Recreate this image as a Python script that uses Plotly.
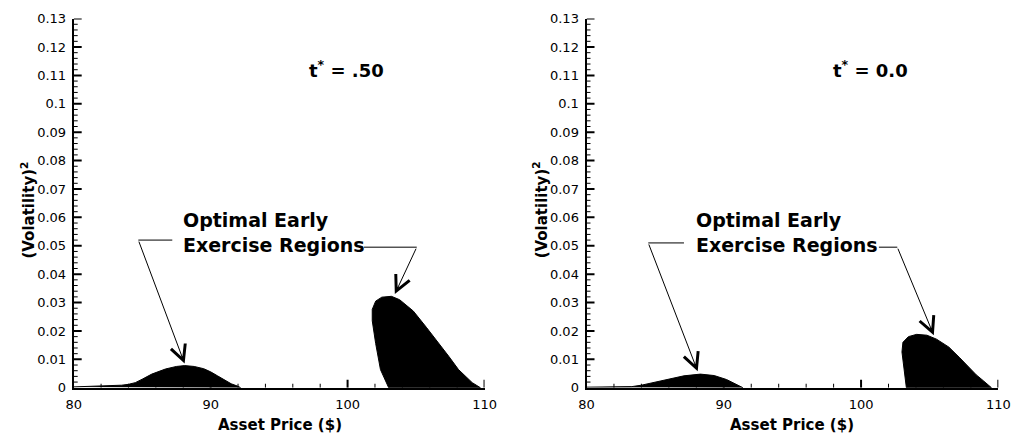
import plotly.graph_objects as go

W, H = 1027, 446

# ---------------- data ----------------
# Panel t* = .50
left_bump_x = [80, 81, 82, 83, 83.5, 84, 84.5, 85, 85.7, 86.7, 87.5, 88.1, 88.8, 89.5, 90, 90.5, 91, 91.5, 92, 92.2]
left_bump_y = [0.0003, 0.0004, 0.0005, 0.0007, 0.0009, 0.0012, 0.0018, 0.0030, 0.0048, 0.0066, 0.0075, 0.0078,
               0.0075, 0.0067, 0.0056, 0.0042, 0.0027, 0.0014, 0.0005, 0.0]
left_region_x = [103.0, 102.4, 102.05, 101.8, 101.8, 102.05, 102.5, 103.2, 103.8, 104.8, 105.75, 106.7,
                 107.4, 108.1, 109.1, 109.7, 103.0]
left_region_y = [0.0, 0.0064, 0.0156, 0.0236, 0.0276, 0.0305, 0.0319, 0.0322, 0.0310, 0.0270, 0.0213, 0.0156,
                 0.0110, 0.0064, 0.0018, 0.0, 0.0]

# Panel t* = 0.0
right_bump_x = [80, 81, 82, 83, 83.3, 84, 84.8, 86.0, 87.1, 88.3, 89.3, 90.2, 91.0, 91.4]
right_bump_y = [0.0002, 0.0002, 0.0003, 0.0003, 0.0004, 0.0009, 0.0017, 0.0030, 0.0042, 0.0048, 0.0043,
                0.0029, 0.0011, 0.0]
right_region_x = [103.3, 103.1, 102.98, 103.05, 103.45, 104.05, 104.8, 105.5, 106.4, 107.2, 107.8, 108.4,
                  108.9, 109.3, 109.5, 103.3]
right_region_y = [0.0, 0.0068, 0.0126, 0.0160, 0.0180, 0.0188, 0.0185, 0.0171, 0.0143, 0.0105, 0.0075,
                  0.0045, 0.0025, 0.0010, 0.0, 0.0]

x_ticks = [80, 90, 100, 110]
x_minor_ticks = [82, 84, 86, 88, 92, 94, 96, 98, 102, 104, 106, 108]
y_ticks = [round(0.01 * i, 2) for i in range(14)]
y_ticklabels = ["0", "0.01", "0.02", "0.03", "0.04", "0.05", "0.06", "0.07", "0.08", "0.09", "0.1",
                "0.11", "0.12", "0.13"]
y_minor_ticks = [round(0.002 * i, 3) for i in range(66) if i % 5 != 0]
panel_titles = ["t<sup>*</sup> = .50", "t<sup>*</sup> = 0.0"]
region_label = "<b>Optimal Early<br>Exercise Regions</b>"
x_title = "Asset Price ($)"
y_title = "(Volatility)<sup>2</sup>"

FONT = "DejaVu Sans"

def px(x):
    return x / W

def py(y):
    return 1 - y / H

fig = go.Figure()

def fill_trace(xs, ys, xa, ya):
    fig.add_trace(go.Scatter(x=xs, y=ys, xaxis=xa, yaxis=ya, mode="lines", fill="toself",
                             fillcolor="black", line=dict(color="black", width=1),
                             hoverinfo="skip", showlegend=False))

fill_trace(left_bump_x, left_bump_y, "x", "y")
fill_trace(left_region_x, left_region_y, "x", "y")
fill_trace(right_bump_x, right_bump_y, "x2", "y2")
fill_trace(right_region_x, right_region_y, "x2", "y2")

ydom = [py(394), py(12)]

xcommon = dict(range=[x_ticks[0], x_ticks[-1]], tickmode="array", tickvals=x_ticks,
               ticktext=[str(v) for v in x_ticks], showline=True, linecolor="black", linewidth=2,
               ticks="", showgrid=False, zeroline=False, ticklabelstandoff=4,
               tickfont=dict(family=FONT, size=13, color="black"))
ycommon = dict(range=[y_ticks[0], y_ticks[-1]], tickmode="array", tickvals=y_ticks, ticktext=y_ticklabels,
               showline=True, linecolor="black", linewidth=2, ticks="", showgrid=False, zeroline=False,
               ticklabelstandoff=3, tickfont=dict(family=FONT, size=13, color="black"))

fig.update_layout(
    width=W, height=H, margin=dict(l=0, r=0, t=0, b=0),
    paper_bgcolor="white", plot_bgcolor="white", showlegend=False,
    xaxis=dict(domain=[px(67), px(486)], anchor="y", **xcommon),
    yaxis=dict(domain=ydom, anchor="x", **ycommon),
    xaxis2=dict(domain=[px(590), px(1010)], anchor="y2", **xcommon),
    yaxis2=dict(domain=ydom, anchor="x2", **ycommon),
)

annotations = []
shapes = []

# inside tick marks, placed by the axes (pixel-length shapes anchored at the axis lines)
for xa, ya in (("x", "y"), ("x2", "y2")):
    for v in x_ticks[1:]:
        shapes.append(dict(type="line", xref=xa, yref=ya, ysizemode="pixel", yanchor=y_ticks[0],
                           x0=v, x1=v, y0=0, y1=8, line=dict(color="black", width=2)))
    for v in x_minor_ticks:
        shapes.append(dict(type="line", xref=xa, yref=ya, ysizemode="pixel", yanchor=y_ticks[0],
                           x0=v, x1=v, y0=0, y1=4, line=dict(color="black", width=1)))
    for v in y_ticks[1:]:
        shapes.append(dict(type="line", xref=xa, yref=ya, xsizemode="pixel", xanchor=x_ticks[0],
                           x0=0, x1=8, y0=v, y1=v, line=dict(color="black", width=2)))
    for v in y_minor_ticks:
        shapes.append(dict(type="line", xref=xa, yref=ya, xsizemode="pixel", xanchor=x_ticks[0],
                           x0=0, x1=4, y0=v, y1=v, line=dict(color="black", width=1)))

# axis titles
for cx in (277, 800):
    annotations.append(dict(x=px(cx), y=py(433), xref="paper", yref="paper", showarrow=False,
                            xanchor="center", yanchor="middle",
                            text="<b>" + x_title + "</b>", font=dict(family=FONT, size=15, color="black")))
for cx in (20, 543):
    annotations.append(dict(x=px(cx), y=py(210), xref="paper", yref="paper", showarrow=False,
                            xanchor="center", yanchor="middle",
                            textangle=-90, text="<b>" + y_title + "</b>",
                            font=dict(family=FONT, size=15, color="black")))

# panel titles
for cx, t in zip((345, 880), panel_titles):
    annotations.append(dict(x=px(cx), y=py(64), xref="paper", yref="paper", showarrow=False,
                            xanchor="center", yanchor="middle",
                            text="<b>" + t + "</b>", font=dict(family=FONT, size=18, color="black")))

# region labels
for lx in (176, 700):
    annotations.append(dict(x=px(lx), y=py(233), xref="paper", yref="paper", showarrow=False,
                            xanchor="left", yanchor="middle", align="left", text=region_label,
                            font=dict(family=FONT, size=19, color="black")))

# leader lines and arrows (data coordinates)
leaders = [
    # xaxis, yaxis, horiz x0, horiz x1, horiz y, tip x, tip y, tail x
    ("x", "y", 84.72, 87.2, 0.0520, 88.1, 0.0085, 84.72),
    ("x", "y", 101.2, 105.05, 0.0495, 103.45, 0.0330, 105.05),
    ("x2", "y2", 84.5, 87.1, 0.0510, 88.1, 0.0058, 84.5),
    ("x2", "y2", 101.3, 102.64, 0.0495, 105.3, 0.0185, 102.64),
]
for xa, ya, hx0, hx1, hy, tx, ty, tailx in leaders:
    shapes.append(dict(type="line", xref=xa, yref=ya, x0=hx0, x1=hx1, y0=hy, y1=hy,
                       line=dict(color="black", width=1)))
    annotations.append(dict(x=tx, y=ty, xref=xa, yref=ya, ax=tailx, ay=hy, axref=xa, ayref=ya,
                            text="", showarrow=True, arrowhead=5, arrowsize=3, arrowwidth=1,
                            arrowcolor="black"))

fig.update_layout(annotations=annotations, shapes=shapes)

fig.write_html("out.html")
